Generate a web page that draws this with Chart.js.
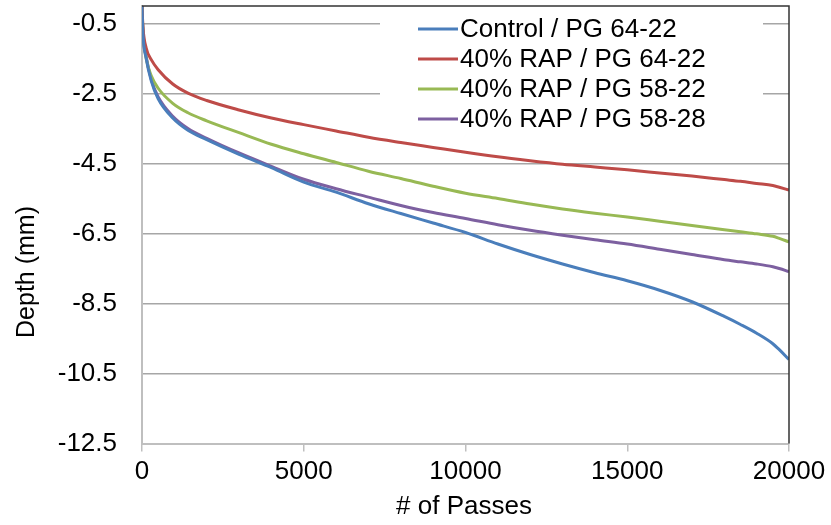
<!DOCTYPE html>
<html>
<head>
<meta charset="utf-8">
<script src="https://cdn.jsdelivr.net/npm/chart.js@4.4.1/dist/chart.umd.min.js"></script>
<style>
  html, body { margin: 0; padding: 0; background: #fff; }
  #wrap { width: 831px; height: 525px; }
</style>
</head>
<body>
<div id="wrap"><canvas id="rut-chart"></canvas></div>
<script>
// passes (x) shared by all four series
const passes = [0, 30, 130, 290, 500, 950, 1420, 2000, 3000, 4000, 5000, 6000, 7000, 8000, 9000,
  10000, 11000, 12000, 13000, 14000, 15000, 16000, 17000, 18000, 18500, 19000, 19500, 19700, 20000];

const controlPG6422 = [0, -0.8, -1.5, -2.15, -2.65, -3.2, -3.55, -3.82, -4.24, -4.62, -5.03, -5.32, -5.65, -5.93, -6.2,
  -6.47, -6.8, -7.1, -7.37, -7.62, -7.85, -8.12, -8.45, -8.87, -9.1, -9.35, -9.65, -9.82, -10.1];
const rapPG6422 = [0, -0.6, -1.2, -1.54, -1.82, -2.23, -2.49, -2.7, -2.97, -3.2, -3.39, -3.57, -3.75, -3.9, -4.04,
  -4.18, -4.31, -4.42, -4.52, -4.6, -4.68, -4.77, -4.86, -4.96, -5.01, -5.07, -5.13, -5.18, -5.26];
const rapPG5822 = [0, -0.7, -1.5, -2.0, -2.35, -2.78, -3.05, -3.28, -3.62, -3.95, -4.22, -4.47, -4.72, -4.93, -5.15,
  -5.35, -5.5, -5.66, -5.8, -5.92, -6.03, -6.15, -6.27, -6.39, -6.45, -6.51, -6.58, -6.64, -6.74];
const rapPG5828 = [0, -0.77, -1.45, -2.11, -2.6, -3.15, -3.5, -3.78, -4.2, -4.58, -4.95, -5.22, -5.46, -5.7, -5.9,
  -6.07, -6.25, -6.41, -6.55, -6.68, -6.8, -6.95, -7.1, -7.25, -7.31, -7.37, -7.45, -7.5, -7.59];

const seriesNames = ['Control / PG 64-22', '40% RAP / PG 64-22', '40% RAP / PG 58-22', '40% RAP / PG 58-28'];
const seriesColors = ['#4a7ebb', '#be4b48', '#98b954', '#7d60a0'];
const yTicks = [-12.5, -10.5, -8.5, -6.5, -4.5, -2.5, -0.5];
const xTicks = [0, 5000, 10000, 15000, 20000];

const FONT = "'Liberation Sans', Arial, sans-serif";

function toPoints(ys) {
  return passes.map((p, i) => ({ x: p, y: ys[i] }));
}

// legend box, frame lines and axis titles drawn by hand to match the excel look
const excelBits = {
  id: 'excelBits',
  beforeDatasetsDraw(chart) {
    const ctx = chart.ctx;
    ctx.save();
    ctx.fillStyle = '#fff';
    ctx.fillRect(380, 8, 383, 126);
    const rows = [29, 59, 89, 119];
    ctx.font = '26px ' + FONT;
    ctx.textBaseline = 'middle';
    ctx.textAlign = 'left';
    seriesNames.forEach((name, i) => {
      ctx.strokeStyle = seriesColors[i];
      ctx.lineWidth = 3;
      ctx.beginPath();
      ctx.moveTo(418, rows[i]);
      ctx.lineTo(458, rows[i]);
      ctx.stroke();
      ctx.fillStyle = '#000';
      ctx.fillText(name, 460, rows[i] + 1);
    });
    ctx.restore();
  },
  afterDraw(chart) {
    const ctx = chart.ctx;
    const a = chart.chartArea;
    ctx.save();
    ctx.strokeStyle = '#333';
    ctx.lineWidth = 1.5;
    ctx.beginPath();
    ctx.moveTo(a.left, a.top);
    ctx.lineTo(a.right, a.top);
    ctx.lineTo(a.right, a.bottom);
    ctx.stroke();

    ctx.fillStyle = '#000';
    ctx.font = '26px ' + FONT;
    ctx.textAlign = 'center';
    ctx.textBaseline = 'middle';
    ctx.fillText('# of Passes', 464, 507);
    ctx.font = '25px ' + FONT;
    ctx.translate(27, 272);
    ctx.rotate(-Math.PI / 2);
    ctx.fillText('Depth (mm)', 0, 0);
    ctx.restore();
  }
};

new Chart(document.getElementById('rut-chart'), {
  type: 'line',
  data: {
    datasets: [controlPG6422, rapPG6422, rapPG5822, rapPG5828].map((ys, i) => ({
      label: seriesNames[i],
      data: toPoints(ys),
      borderColor: seriesColors[i],
      backgroundColor: seriesColors[i],
      borderWidth: 3,
      pointRadius: 0,
      cubicInterpolationMode: 'monotone',
      fill: false
    }))
  },
  options: {
    responsive: true,
    maintainAspectRatio: false,
    animation: false,
    layout: { padding: { left: 0, top: 6, right: 42, bottom: 0 } },
    plugins: {
      legend: { display: false },
      tooltip: { enabled: false }
    },
    scales: {
      x: {
        type: 'linear',
        min: 0,
        max: 20000,
        afterBuildTicks: s => { s.ticks = xTicks.map(v => ({ value: v })); },
        afterFit: s => { s.height = 81.5; s.paddingLeft = 0; s.paddingRight = 0; },
        ticks: {
          padding: 5,
          color: '#000',
          font: { family: FONT, size: 26 },
          maxRotation: 0,
          callback: v => String(v)
        },
        grid: { drawOnChartArea: false, drawTicks: true, tickLength: 8, color: '#bfbfbf', lineWidth: 1.5 },
        border: { color: '#bfbfbf', width: 2 }
      },
      y: {
        min: -12.5,
        max: 0,
        afterBuildTicks: s => { s.ticks = yTicks.map(v => ({ value: v })); },
        afterFit: s => { s.width = 142; s.paddingTop = 0; s.paddingBottom = 0; },
        ticks: {
          padding: 25,
          color: '#000',
          font: { family: FONT, size: 26 },
          callback: v => String(v)
        },
        grid: { drawTicks: false, color: '#a6a6a6', lineWidth: 1.5 },
        border: { color: '#bfbfbf', width: 2 }
      }
    }
  },
  plugins: [excelBits]
});
</script>
</body>
</html>
